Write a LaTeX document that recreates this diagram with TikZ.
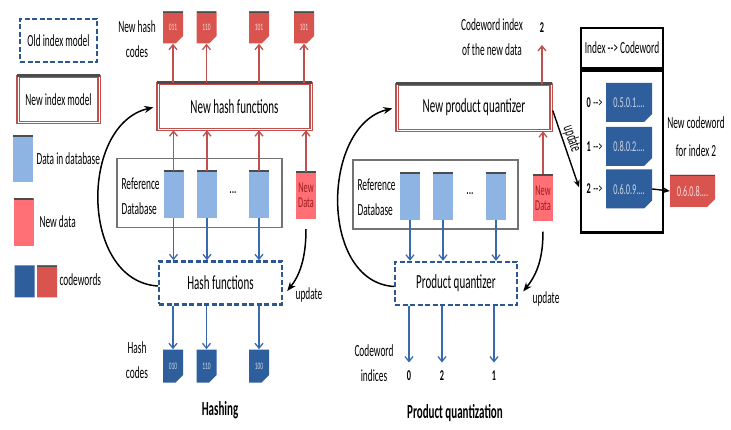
\documentclass[tikz,border=0pt]{standalone}
\usepackage{fontspec}
\setmainfont{Carlito}[FakeStretch=0.55]
\usetikzlibrary{arrows.meta,shapes.misc}
\definecolor{dbfill}{HTML}{8EB4E3}
\definecolor{ndfill}{HTML}{FF6F75}
\definecolor{ndtext}{HTML}{9C1C1C}
\definecolor{cwblue}{HTML}{2E5E9C}
\definecolor{cwred}{HTML}{D9534F}
\definecolor{boxred}{HTML}{C0504D}
\definecolor{oldblue}{HTML}{2B5797}
\definecolor{arrblue}{HTML}{3A6AAE}
\newcommand{\fourdots}{....}
\begin{document}
\begin{tikzpicture}[x=10pt,y=-10pt,
  every node/.style={font=\fontsize{17}{25}\selectfont},
  newbox/.style={draw=boxred,line width=1.5pt,double=white,double distance=0.9pt,fill=white,minimum height=46pt,inner sep=0pt},
  oldbox/.style={draw=oldblue,line width=2.4pt,dash pattern=on 5pt off 2.5pt,fill=white,minimum height=43pt,inner sep=0pt},
  bigtxt/.style={font=\fontsize{20}{22}\selectfont},
  topedge/.style={black!70,line width=2.8pt},
  dbbox/.style={draw=black!55,line width=1.3pt,minimum width=165pt,minimum height=69pt},
  datum/.style={fill=dbfill,minimum width=20pt,minimum height=47pt,inner sep=0pt,
    path picture={\draw[black!70,line width=3pt] (path picture bounding box.north west) -- (path picture bounding box.north east);}},
  newdatum/.style={datum,fill=ndfill,text=ndtext,align=center,font=\fontsize{15}{15}\selectfont},
  tag/.style={chamfered rectangle,chamfered rectangle corners=south east,chamfered rectangle xsep=4pt,chamfered rectangle ysep=4pt,
    inner sep=0pt,minimum width=20pt,minimum height=32pt,font=\fontsize{10}{11}\selectfont},
  bluetag/.style={tag,fill=cwblue,text=white!75!cwblue},
  redtag/.style={tag,fill=cwred,text=white!80!cwred,
    path picture={\draw[black!70,line width=3pt] (path picture bounding box.north west) -- (path picture bounding box.north east);}},
  lbl/.style={align=center},
  ttl/.style={font=\bfseries\fontsize{20}{22}\selectfont},
  idxnum/.style={font=\bfseries\fontsize{15}{16}\selectfont},
  redarr/.style={draw=boxred,line width=1.3pt,-{Straight Barb[length=5pt,width=8pt]}},
  bluearr/.style={draw=arrblue,line width=1.3pt,-{Straight Barb[length=5pt,width=8pt]}},
  feedback/.style={line width=1.5pt,-{Stealth[length=9pt,width=7pt]}},
  blkarr/.style={line width=1.4pt,-{Stealth[length=7pt,width=6pt]}}]
\useasboundingbox (0,0) rectangle (73.1,43.0);

% legend
\node[oldbox,minimum width=77pt] (oldleg) at (5.85,4.05) {Old index model};
\node[newbox,minimum width=81pt] (newleg) at (5.85,9.95) {New index model};
\draw[topedge] (newleg.north west) -- (newleg.north east);
\node[datum] (dbleg) at (2.3,15.9) {};
\node[anchor=west] (dblegtxt) at (3.3,15.9) {Data in database};
\node[newdatum] (ndleg) at (2.35,22.25) {};
\node[anchor=west] (ndlegtxt) at (3.6,22.2) {New data};
\node[bluetag] (cwleg1) at (2.45,28.15) {};
\node[redtag] (cwleg2) at (4.7,28.15) {};
\node[anchor=west] (cwlegtxt) at (5.6,28.0) {codewords};

% hashing
\node[newbox,bigtxt,minimum width=153pt] (nhf) at (23.45,10.65) {New hash functions};
\draw[topedge] (nhf.north west) -- (nhf.north east);
\foreach \x/\c [count=\i] in {17.3/011,20.65/110,25.9/101,30.4/101}
  \node[redtag] (nt\i) at (\x,2.75) {\c};
\node[lbl] (nhctxt) at (13.7,3.9) {New hash\\codes};
\node[dbbox] (ref1) at (19.95,19.3) {};
\node[lbl,align=left,anchor=west] (ref1txt) at (11.8,19.6) {Reference\\Database};
\foreach \x [count=\i] in {17.35,20.7,25.9}
  \node[datum] (d1\i) at (\x,19.45) {};
\node (dots1) at (23.3,19.3) {...};
\node[newdatum] (nd1) at (30.6,19.55) {New\\Data};
\node[oldbox,bigtxt,minimum width=123pt] (hf) at (22.05,28.3) {Hash functions};
\foreach \x/\c [count=\i] in {17.3/010,20.65/110,25.9/100}
  \node[bluetag,minimum height=33pt] (hc\i) at (\x,36.6) {\c};
\node[lbl] (hctxt) at (13.7,36.0) {Hash\\codes};
\node[ttl] (hashttl) at (22.0,41.0) {Hashing};

\foreach \i in {1,2,3} {
  \draw[redarr] (d1\i.north) -- (d1\i.north |- nhf.south);
  \draw[redarr] (nhf.north -| nt\i) -- (nt\i.south);
  \draw[bluearr] (d1\i.south) -- (d1\i.south |- hf.north);
  \draw[bluearr] (hf.south -| hc\i) -- (hc\i.north);
}
\draw[redarr] (nd1.north) -- (nd1.north |- nhf.south);
\draw[redarr] (nhf.north -| nt4) -- (nt4.south);
\draw[feedback,shorten >=4pt] ([yshift=-3pt]hf.west) .. controls +(-7.8,-0.5) and +(-7.8,1.8) .. (nhf.west);
\draw[feedback] ([yshift=-10pt]nd1.south) .. controls +(0,3) and +(1.2,-1.5) .. ([xshift=4pt,yshift=-8pt]hf.east);
\node (upd1txt) at (30.9,29.5) {update};

% product quantization
\node[newbox,bigtxt,minimum width=154pt] (npq) at (47.4,10.75) {New product quantizer};
\draw[topedge] (npq.north west) -- (npq.north east);
\node[lbl] (cwitxt) at (49.2,3.75) {Codeword index\\of the new data};
\node[idxnum] (newidx) at (54.2,2.75) {2};
\node[dbbox] (ref2) at (43.55,19.45) {};
\node[lbl,align=left,anchor=west] (ref2txt) at (35.4,19.7) {Reference\\Database};
\foreach \x [count=\i] in {41.0,44.3,49.6}
  \node[datum] (d2\i) at (\x,19.65) {};
\node (dots2) at (47.0,19.4) {...};
\node[newdatum] (nd2) at (54.3,19.8) {New\\Data};
\node[oldbox,bigtxt,minimum width=122pt] (pq) at (45.6,28.35) {Product quantizer};
\foreach \x/\c [count=\i] in {40.9/0,44.2/2,49.4/1}
  \node[idxnum] (ci\i) at (\x,37.6) {\c};
\node[lbl] (citxt) at (37.4,36.3) {Codeword\\indices};
\node[ttl] (pqttl) at (45.5,41.3) {Product quantization};

\foreach \i in {1,2,3} {
  \draw[bluearr] (d2\i.south) -- (d2\i.south |- pq.north);
  \draw[bluearr,shorten >=5pt] (pq.south -| ci\i) -- (ci\i.north);
}
\draw[redarr] (nd2.north) -- (nd2.north |- npq.south);
\draw[redarr,shorten >=9pt] (npq.north -| newidx) -- (newidx.south);
\draw[feedback,shorten >=4pt] ([yshift=-3pt]pq.west) .. controls +(-7.5,-0.5) and +(-7.5,1.8) .. (npq.west);
\draw[feedback] ([yshift=-10pt]nd2.south) .. controls +(0,3) and +(1.2,-1.5) .. ([xshift=5pt,yshift=-8pt]pq.east);
\node (upd2txt) at (54.6,29.9) {update};

% codebook table
\node[draw,line width=2.8pt,minimum width=82pt,minimum height=40pt,inner sep=0pt] (cbhead) at (62.2,4.8) {Index -{}-{}> Codeword};
\node[draw,line width=2.8pt,minimum width=82pt,minimum height=162pt,inner sep=0pt,anchor=north] (cbbody) at (cbhead.south) {};
\foreach \y/\c/\v [count=\i from 0] in {10.25/0/0.5.0.1\fourdots,14.65/1/0.8.0.2\fourdots,18.9/2/0.6.0.9\fourdots} {
  \node[bluetag,minimum width=46pt,minimum height=39pt,font=\fontsize{15}{16}\selectfont] (cw\i) at (62.9,\y) {\v};
  \node[anchor=east,font=\fontsize{15}{16}\selectfont] (row\i) at (60.6,\y) {{\bfseries\c}\,-{}->};
}
\node[redtag,minimum width=45pt,minimum height=32pt,font=\fontsize{15}{16}\selectfont] (newcw) at (69.25,19.1) {0.6.0.8\fourdots};
\draw[blkarr] (cw2.east) -- (newcw.west);
\node[lbl,font=\fontsize{17}{28}\selectfont] (newcwtxt) at (69.6,13.7) {New codeword\\for index 2};
\draw[blkarr,shorten >=2pt] ([xshift=1pt,yshift=-3pt]npq.east) -- (cbbody.west |- row2.west) node[pos=0.4,sloped,above,inner sep=1pt] (upd3txt) {update};
\end{tikzpicture}
\end{document}
